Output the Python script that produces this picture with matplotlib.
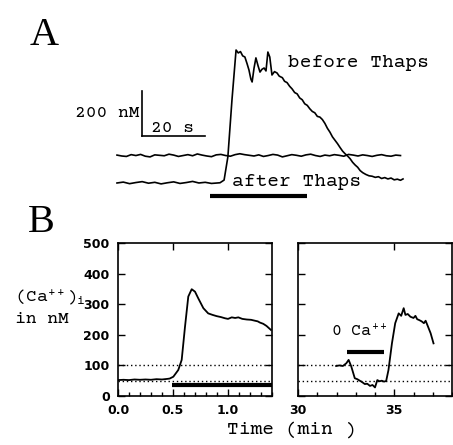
import numpy as np
import matplotlib
matplotlib.use("Agg")
import matplotlib.pyplot as plt

mono = 'Courier Prime'
plt.rcParams['font.family'] = [mono, 'Liberation Mono']
plt.rcParams['mathtext.fontset'] = 'custom'
plt.rcParams['mathtext.rm'] = mono
plt.rcParams['mathtext.it'] = mono
plt.rcParams['mathtext.bf'] = mono + ':bold'

# Panel A: time (s) and [Ca++] (nM, traces offset for display)
before_t = [0, 2, 4, 6, 8, 10, 12, 14, 16, 18, 20, 22, 24, 26, 28, 30, 32.7, 34, 35.2,
            36.5, 37.8, 38.5, 39.2, 39.9, 40.6, 41.3, 41.9, 42.5, 42.9, 43.5, 44.1,
            44.8, 45.4, 46.0, 46.7, 47.3, 47.9, 48.5, 49.2, 50.0, 50.8, 51.5, 52.5,
            53.2, 54.0, 54.8, 55.6, 56.4, 57.2, 58.0, 58.8, 59.6, 60.4, 61.2, 62.0,
            62.8, 63.6, 64.4, 65.2, 66.0, 66.8, 67.6, 68.4, 69.2, 70.0, 70.8, 71.6,
            72.4, 73.2, 74.0, 74.8, 75.6, 76.4, 77.2, 78.0, 79.0, 80.0, 81.0, 82.0,
            83.0, 84.0, 85.0, 86.0, 87.0, 88.0, 89.0, 90.0, 90.8]
before_y = [0, 4, -3, 2, 6, -1, 3, -4, 1, 5, -2, 2, 7, 0, 3, -2, 1, 13, 116,
            369, 591, 578, 584, 565, 560, 530, 502, 462, 449, 510, 556,
            520, 493, 505, 511, 498, 582, 560, 480, 495, 489, 475, 468,
            452, 446, 430, 418, 402, 396, 378, 370, 352, 345, 330, 318,
            312, 296, 293, 282, 265, 243, 226, 205, 190, 175, 158, 142,
            130, 120, 108, 92, 80, 70, 55, 46, 38, 32, 30, 25,
            28, 20, 24, 18, 22, 14, 17, 12, 18]

after_y = [124, 120, 118, 126, 122, 127, 119, 116, 125, 123, 121, 128, 124, 118, 122,
           126, 121, 129, 124, 120, 117, 125, 127, 122, 119, 126, 130, 126, 123, 120,
           125, 118, 122, 127, 124, 116, 121, 126, 123, 119, 125, 128, 122, 118, 124,
           121, 126, 123, 119, 127, 124, 120, 125, 122, 118, 123, 126, 121, 119, 124,
           122]
after_t = np.arange(len(after_y)) * 1.5

# Panel B left: time (min) and [Ca++]i (nM)
left_t = [0.0, 0.05, 0.1, 0.15, 0.2, 0.25, 0.3, 0.35, 0.4, 0.45, 0.47, 0.503, 0.548,
          0.579, 0.609, 0.639, 0.670, 0.70, 0.73, 0.776, 0.82, 0.86, 0.897, 0.935,
          0.973, 1.0, 1.034, 1.065, 1.094, 1.13, 1.17, 1.21, 1.245, 1.27, 1.29, 1.32,
          1.35, 1.39]
left_y = [52, 53, 52, 54, 53, 54, 53, 55, 54, 56, 57, 63, 85,
          118, 226, 325, 349, 341, 319, 287, 270, 265, 261, 258,
          254, 252, 257, 255, 257, 252, 250, 249, 246, 244, 240, 236,
          229, 216]

# Panel B right: time (min) and [Ca++]i (nM)
right_t = [31.98, 32.15, 32.33, 32.51, 32.63, 32.77, 32.95, 33.08, 33.21, 33.34, 33.47,
           33.6, 33.74, 33.87, 34.0, 34.12, 34.24, 34.35, 34.47, 34.58, 34.70, 34.88,
           35.05, 35.23, 35.36, 35.49, 35.58, 35.7, 35.84, 36.0, 36.1, 36.19, 36.3,
           36.42, 36.54, 36.63, 36.72, 36.89, 37.04]
right_y = [98, 100, 98, 107, 118, 96, 58, 55, 50, 45, 39,
           40, 33, 36, 28, 52, 48, 50, 47, 49, 85, 172,
           238, 270, 262, 287, 265, 268, 259, 255, 262, 251, 248,
           244, 238, 246, 232, 205, 172]

dotted_levels = [100, 50]

fig = plt.figure(figsize=(4.53, 4.45), dpi=100)

# ---- Panel A ----
axA = fig.add_axes([0, 1 - 200 / 445, 1, 200 / 445])
axA.set_xlim(-37.14, 106.67)
axA.set_ylim(-75.6, 813.3)
axA.axis('off')
axA.plot(before_t, before_y, color='black', lw=1.2)
axA.plot(after_t, after_y, color='black', lw=1.2)
# scale bar
axA.plot([7.9, 7.9], [409, 209], color='black', lw=1.2)
axA.plot([7.9, 27.9], [209, 209], color='black', lw=1.2)
# stimulus bar
axA.plot([29.5, 60.3], [-58, -58], color='black', lw=3, solid_capstyle='butt')
axA.text(7.3, 311, '200 nM', ha='right', va='center', fontsize=13)
axA.text(17.5, 244, '20 s', ha='center', va='center', fontsize=13)
axA.text(54.3, 533, 'before Thaps', ha='left', va='center', fontsize=14)
axA.text(36.5, 4, 'after Thaps', ha='left', va='center', fontsize=14)

fig.text(30 / 453, 1 - 45 / 445, 'A', family='Liberation Serif', fontsize=29, va='baseline')
fig.text(28 / 453, 1 - 232 / 445, 'B', family='Liberation Serif', fontsize=29, va='baseline')

# ---- Panel B ----
axL = fig.add_axes([118 / 453, 1 - 396 / 445, 154 / 453, 153 / 445])
axR = fig.add_axes([298 / 453, 1 - 396 / 445, 154 / 453, 153 / 445])

for ax in (axL, axR):
    ax.set_ylim(0, 500)
    for lvl in dotted_levels:
        ax.axhline(lvl, color='black', lw=1, ls=(0, (1, 2)))
    for sp in ax.spines.values():
        sp.set_linewidth(1.2)
    ax.tick_params(which='both', direction='in', top=True, right=True, pad=6)
    ax.tick_params(which='major', length=5, width=1)
    ax.tick_params(which='minor', length=3, width=1)
    ax.set_yticks([0, 100, 200, 300, 400, 500])

axL.plot(left_t, left_y, color='black', lw=1.3)
axL.plot([0.49, 1.4], [36, 36], color='black', lw=3, solid_capstyle='butt')
axL.set_xlim(0, 1.4)
axL.set_xticks([0.0, 0.5, 1.0])
axL.set_xticklabels(['0.0', '0.5', '1.0'])
axL.set_xticks(np.arange(0, 1.41, 0.1), minor=True)
axL.tick_params(which='minor', top=False)

axR.plot(right_t, right_y, color='black', lw=1.3)
axR.plot([32.54, 34.49], [145, 145], color='black', lw=3, solid_capstyle='butt')
axR.set_xlim(30, 38)
axR.set_xticks([30, 35])
axR.set_xticks(np.arange(30, 38.1, 1), minor=True)
axR.tick_params(which='minor', top=False)
axR.tick_params(axis='y', labelleft=False)
axR.text(31.74, 194, r'0 Ca$^{++}$', fontsize=12, va='baseline')

for ax in (axL, axR):
    for lab in ax.get_xticklabels() + ax.get_yticklabels():
        lab.set_family('DejaVu Sans')
        lab.set_fontweight('bold')
        lab.set_fontsize(9)

fig.text(15 / 453, 1 - 298 / 445, r'(Ca$^{++}$)$_{\mathrm{i}}$', fontsize=13, va='center')
fig.text(15 / 453, 1 - 319 / 445, 'in nM', fontsize=13, va='center')
fig.text(292 / 453, 1 - 430 / 445, 'Time (min )', fontsize=14, ha='center', va='center')

fig.savefig('out.png', dpi=100)
